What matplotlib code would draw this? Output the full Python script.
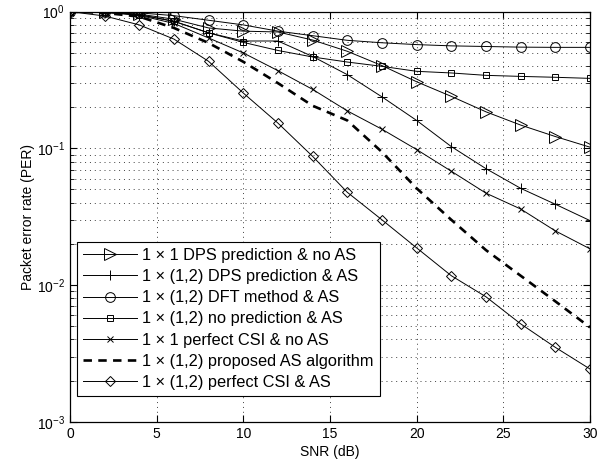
import numpy as np
import matplotlib
matplotlib.use('Agg')
import matplotlib.pyplot as plt

plt.rcParams['font.family'] = ['Liberation Sans', 'DejaVu Sans']
plt.rcParams['mathtext.fontset'] = 'custom'
plt.rcParams['mathtext.rm'] = 'Liberation Sans'

# SNR (dB)
snr = [0, 2, 4, 6, 8, 10, 12, 14, 16, 18, 20, 22, 24, 26, 28, 30]

# PER values
per_dps_no_as = [1.0, 0.99, 0.96, 0.88, 0.76, 0.72, 0.71, 0.62, 0.513, 0.403,
                 0.307, 0.24, 0.185, 0.148, 0.122, 0.102]
per_dps_as = [1.0, 0.99, 0.95, 0.85, 0.70, 0.61, 0.61, 0.47, 0.346, 0.238,
              0.16, 0.103, 0.071, 0.051, 0.039, 0.0296]
per_dft_as = [1.0, 0.99, 0.98, 0.935, 0.865, 0.80, 0.72, 0.667, 0.617, 0.592,
              0.574, 0.562, 0.556, 0.55, 0.548, 0.548]
per_nopred_as = [1.0, 0.99, 0.95, 0.85, 0.70, 0.596, 0.52, 0.466, 0.428, 0.398,
                 0.366, 0.356, 0.342, 0.336, 0.331, 0.325]
per_csi_no_as = [1.0, 0.99, 0.94, 0.82, 0.642, 0.499, 0.37, 0.27, 0.188, 0.138,
                 0.098, 0.068, 0.047, 0.036, 0.0249, 0.0184]
per_proposed = [1.0, 0.98, 0.92, 0.76, 0.59, 0.43, 0.30, 0.205, 0.16, 0.094,
                0.051, 0.030, 0.018, 0.0117, 0.0076, 0.0049]
per_csi_as = [1.0, 0.93, 0.80, 0.63, 0.433, 0.254, 0.153, 0.0874, 0.0477, 0.030,
              0.0187, 0.0117, 0.0082, 0.0052, 0.0035, 0.00243]

labels = ['1 × 1 DPS prediction & no AS',
          '1 × (1,2) DPS prediction & AS',
          '1 × (1,2) DFT method & AS',
          '1 × (1,2) no prediction & AS',
          '1 × 1 perfect CSI & no AS',
          '1 × (1,2) proposed AS algorithm',
          '1 × (1,2) perfect CSI & AS']

fig = plt.figure(figsize=(6.13, 4.66), dpi=100)
ax = fig.add_axes([0.114, 0.095, 0.8485, 0.88])

kw = dict(color='k', lw=0.7, fillstyle='none', mew=0.7)
ax.semilogy(snr, per_dps_no_as, marker='>', ms=8, label=labels[0], **kw)
ax.semilogy(snr, per_dps_as, marker='+', ms=7, label=labels[1], **kw)
ax.semilogy(snr, per_dft_as, marker='o', ms=7, label=labels[2], **kw)
ax.semilogy(snr, per_nopred_as, marker='s', ms=5, label=labels[3], **kw)
ax.semilogy(snr, per_csi_no_as, marker='x', ms=5, label=labels[4], **kw)
ax.semilogy(snr, per_proposed, color='k', lw=1.9, ls=(0, (3.2, 2.4)),
            label=labels[5])
ax.semilogy(snr, per_csi_as, marker='D', ms=5, label=labels[6], **kw)

ax.set_xlim(0, 30)
ax.set_ylim(1e-3, 1)
ax.set_xticks([0, 5, 10, 15, 20, 25, 30])
ax.tick_params(which='both', direction='in', top=True, right=True,
               labelsize=10)
ax.tick_params(which='major', length=5)
ax.tick_params(which='minor', length=3)
grid_ls = (0, (1, 4))
ax.grid(True, which='major', ls=grid_ls, color='0.25', lw=0.7)
ax.grid(True, which='minor', axis='y', ls=grid_ls, color='0.25', lw=0.7)
for s in ax.spines.values():
    s.set_linewidth(0.9)

ax.set_xlabel('SNR (dB)', fontsize=10, labelpad=3)
ax.set_ylabel('Packet error rate (PER)', fontsize=10)
ax.yaxis.set_label_coords(-0.068, 0.5)

leg = ax.legend(loc='lower left', bbox_to_anchor=(0.0135, 0.063),
                borderaxespad=0, fontsize=11.8, fancybox=False,
                edgecolor='k', framealpha=1, handlelength=3.3,
                handletextpad=0.35, labelspacing=0.38, borderpad=0.35)
leg.get_frame().set_linewidth(0.8)

fig.savefig('out.png', dpi=100)
